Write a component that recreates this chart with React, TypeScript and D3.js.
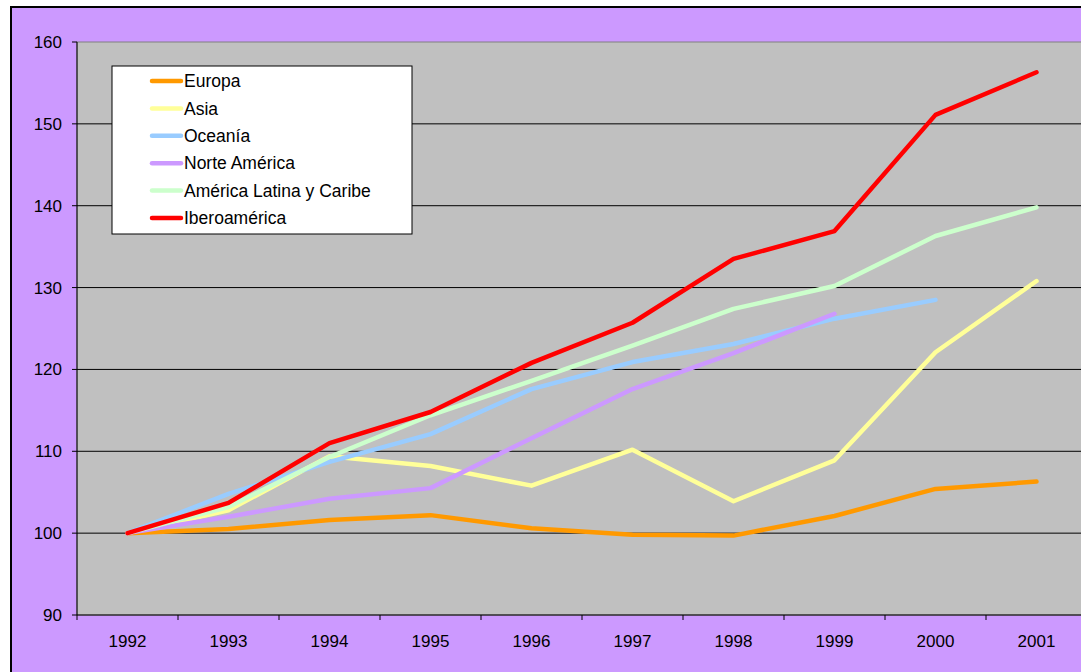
import React from "react";
import * as d3 from "d3";

const years = ["1992", "1993", "1994", "1995", "1996", "1997", "1998", "1999", "2000", "2001"];
const yTicks = [90, 100, 110, 120, 130, 140, 150, 160];

const europa = [100, 100.5, 101.6, 102.2, 100.6, 99.8, 99.7, 102.1, 105.4, 106.3];
const asia = [100, 102.8, 109.4, 108.2, 105.8, 110.2, 103.9, 108.9, 122.1, 130.8];
const oceania = [100, 104.8, 108.7, 112.1, 117.6, 120.9, 123.1, 126.2, 128.5, null];
const norteAmerica = [100, 102.0, 104.2, 105.5, 111.6, 117.6, 122.0, 126.8, null, null];
const americaLatina = [100, 103.2, 109.3, 114.4, 118.6, 122.9, 127.4, 130.2, 136.3, 139.8];
const iberoamerica = [100, 103.7, 111.0, 114.8, 120.8, 125.7, 133.5, 136.9, 151.1, 156.3];

const seriesNames = ["Europa", "Asia", "Oceanía", "Norte América", "América Latina y Caribe", "Iberoamérica"];
const seriesValues = [europa, asia, oceania, norteAmerica, americaLatina, iberoamerica];
const seriesColors = ["#FF9900", "#FFFF99", "#99CCFF", "#CC99FF", "#CCFFCC", "#FF0000"];

export default function App() {
  const W = 1081, H = 672;
  const left = 77, top = 42, bottom = 615;
  const bandW = 101;
  const right = left + bandW * years.length;
  const x = d3.scaleBand<string>().domain(years).range([left, right]);
  const y = d3.scaleLinear().domain([90, 160]).range([bottom, top]);
  const line = d3.line<number | null>()
    .defined((d) => d != null)
    .x((_, i) => (x(years[i]) as number) + x.bandwidth() / 2)
    .y((d) => y(d as number));
  const font = "Liberation Sans, Arial, sans-serif";
  return (
    <svg width={W} height={H} style={{ position: "absolute", left: 0, top: 0 }} fontFamily={font}>
      <rect x={0} y={0} width={W} height={H} fill="#fff" />
      <rect x={11} y={7} width={W + 10} height={H + 10} fill="#CC99FF" stroke="#000" strokeWidth={2} />
      <rect x={left} y={top} width={right - left} height={bottom - top} fill="#C0C0C0" stroke="#808080" strokeWidth={1} />
      {yTicks.map((t) => (
        <g key={t}>
          {t > 90 && t < 160 && <line x1={left} x2={right} y1={y(t)} y2={y(t)} stroke="#000" strokeWidth={1} />}
          <line x1={72} x2={left} y1={y(t)} y2={y(t)} stroke="#000" strokeWidth={1} />
          <text x={62} y={y(t)} dy="0.35em" textAnchor="end" fontSize={17} fill="#000">{t}</text>
        </g>
      ))}
      <line x1={left} x2={left} y1={top} y2={bottom} stroke="#000" strokeWidth={1} />
      <line x1={left} x2={right} y1={bottom} y2={bottom} stroke="#000" strokeWidth={1} />
      {years.map((yr, i) => (
        <g key={yr}>
          <line x1={left + i * bandW} x2={left + i * bandW} y1={bottom} y2={bottom + 5} stroke="#000" strokeWidth={1} />
          <text x={(x(yr) as number) + x.bandwidth() / 2} y={641} dy="0.35em" textAnchor="middle" fontSize={17} fill="#000">{yr}</text>
        </g>
      ))}
      {seriesValues.map((vals, i) => (
        <path key={seriesNames[i]} d={line(vals) || ""} fill="none" stroke={seriesColors[i]} strokeWidth={4.5} strokeLinejoin="round" strokeLinecap="round" />
      ))}
      <rect x={112} y={66} width={300} height={168} fill="#fff" stroke="#000" strokeWidth={1} />
      {seriesNames.map((n, i) => {
        const ly = 81 + i * 27.4;
        return (
          <g key={n}>
            <line x1={152} x2={181} y1={ly} y2={ly} stroke={seriesColors[i]} strokeWidth={4.5} strokeLinecap="round" />
            <text x={184} y={ly} dy="0.35em" fontSize={17.5} fill="#000">{n}</text>
          </g>
        );
      })}
    </svg>
  );
}
